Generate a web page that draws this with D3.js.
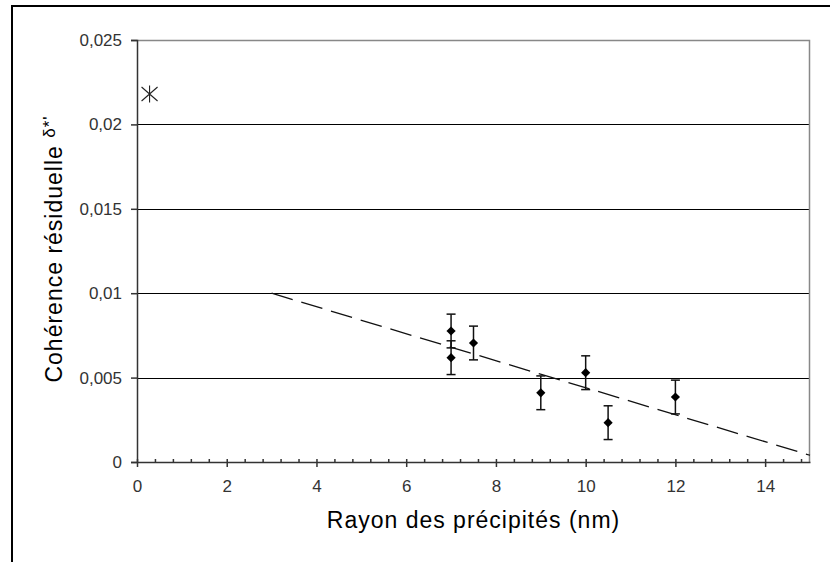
<!DOCTYPE html>
<html>
<head>
<meta charset="utf-8">
<script src="https://cdn.jsdelivr.net/npm/d3@7"></script>
<style>
	body { margin: 0; background: #fff; }
	svg { display: block; }
	text { font-family: "Liberation Sans", Arial, sans-serif; }
</style>
</head>
<body>
<svg id="chart_svg" width="830" height="562"></svg>
<script>
// measured points with their error bars
var radius = [7, 7, 7.5, 9, 10, 10.5, 12];
var coherence = [0.00776, 0.00618, 0.00705, 0.0041, 0.00529, 0.00233, 0.00385];
var errors = [0.001, 0.001, 0.001, 0.001, 0.001, 0.001, 0.001];

// isolated point drawn as a star
var outlierRadius = [0.28];
var outlierCoherence = [0.0218];

// dashed trend line ends
var trendRadius = [3, 15];
var trendCoherence = [0.0100, 0.0004];

var xTicks = [0, 2, 4, 6, 8, 10, 12, 14];
var xTickLabels = ["0", "2", "4", "6", "8", "10", "12", "14"];
var yTicks = [0, 0.005, 0.01, 0.015, 0.02, 0.025];
var yTickLabels = ["0", "0,005", "0,01", "0,015", "0,02", "0,025"];

var svg = d3.select("#chart_svg"),
	margin = {top: 40, right: 20, bottom: 100, left: 137},
	width = svg.attr("width") - margin.left - margin.right,
	height = svg.attr("height") - margin.top - margin.bottom;

// outer frame (only top and left edges visible)
svg.append("path")
	.attr("d", "M12,562V6H830")
	.attr("fill", "none")
	.attr("stroke", "#000")
	.attr("stroke-width", 2);

var g = svg.append("g").attr("transform", "translate(" + margin.left + "," + margin.top + ")");

var x = d3.scaleLinear().domain([0, 15]).range([0, width]);
var y = d3.scaleLinear().domain([0, 0.025]).range([height, 0]);

// horizontal grid
g.append("g")
	.selectAll("line")
	.data(yTicks.filter(function(d) { return d > 0 && d < 0.025; }))
	.enter().append("line")
	.attr("x1", 0)
	.attr("x2", width)
	.attr("y1", function(d) { return Math.round(y(d)) + 0.5; })
	.attr("y2", function(d) { return Math.round(y(d)) + 0.5; })
	.attr("stroke", "#000");

// plot frame top / right
g.append("path")
	.attr("d", "M0,0.5H" + (width - 0.5) + "V" + height)
	.attr("fill", "none")
	.attr("stroke", "#888")
	.attr("stroke-width", 1.5);

// y axis
var yAxis = g.append("g")
	.call(d3.axisLeft(y).tickValues(yTicks).tickSize(6).tickPadding(9)
		.tickFormat(function(d, i) { return yTickLabels[i]; }));
yAxis.select(".domain").attr("stroke", "#333").attr("stroke-width", 1.5);
yAxis.selectAll(".tick line").attr("stroke", "#333").attr("stroke-width", 1.5);
yAxis.selectAll("text").attr("font-size", 17).attr("fill", "#333").attr("font-family", null);

// x axis: minor ticks every 0.4, pointing inward
var minorTicks = d3.range(0, 75).map(function(i) { return i * 0.4; })
	.filter(function(d) { return d < 15 && Math.abs(d / 2 - Math.round(d / 2)) > 0.01; });
g.append("g")
	.attr("transform", "translate(0," + height + ")")
	.call(d3.axisTop(x).tickValues(minorTicks).tickSize(3).tickFormat(""))
	.call(function(s) {
		s.select(".domain").remove();
		s.selectAll(".tick line").attr("stroke", "#333").attr("stroke-width", 1.5);
	});

var xAxis = g.append("g")
	.attr("transform", "translate(0," + height + ")")
	.call(d3.axisBottom(x).tickValues(xTicks).tickSize(5).tickSizeOuter(0).tickPadding(13)
		.tickFormat(function(d, i) { return xTickLabels[i]; }));
xAxis.select(".domain").attr("stroke", "#333").attr("stroke-width", 1.5);
xAxis.selectAll(".tick line").attr("stroke", "#333").attr("stroke-width", 1.5).attr("y1", -3);
xAxis.selectAll("text").attr("font-size", 17).attr("fill", "#333").attr("font-family", null);

// trend line
g.append("path")
	.datum(d3.zip(trendRadius, trendCoherence))
	.attr("d", d3.line()
		.x(function(d) { return x(d[0]); })
		.y(function(d) { return y(d[1]); }))
	.attr("fill", "none")
	.attr("stroke", "#111")
	.attr("stroke-width", 1.3)
	.attr("stroke-dasharray", "22,9");

var points = d3.range(radius.length).map(function(i) {
	return {r: radius[i], c: coherence[i], e: errors[i]};
});

// error bars
var bars = g.append("g").selectAll("g")
	.data(points)
	.enter().append("g")
	.attr("stroke", "#111")
	.attr("stroke-width", 1.5);

bars.append("line")
	.attr("x1", function(d) { return x(d.r); })
	.attr("x2", function(d) { return x(d.r); })
	.attr("y1", function(d) { return y(d.c + d.e); })
	.attr("y2", function(d) { return y(d.c - d.e); });

bars.selectAll(".cap")
	.data(function(d) { return [[d.r, d.c + d.e], [d.r, d.c - d.e]]; })
	.enter().append("line")
	.attr("class", "cap")
	.attr("x1", function(d) { return x(d[0]) - 4.5; })
	.attr("x2", function(d) { return x(d[0]) + 4.5; })
	.attr("y1", function(d) { return y(d[1]); })
	.attr("y2", function(d) { return y(d[1]); });

// diamond markers
g.append("g").selectAll("path")
	.data(points)
	.enter().append("path")
	.attr("transform", function(d) { return "translate(" + x(d.r) + "," + y(d.c) + ")"; })
	.attr("d", "M0,-4.6L4.6,0L0,4.6L-4.6,0Z")
	.attr("fill", "#000");

// star marker
g.append("g").selectAll("path")
	.data(d3.zip(outlierRadius, outlierCoherence))
	.enter().append("path")
	.attr("transform", function(d) { return "translate(" + x(d[0]) + "," + y(d[1]) + ")"; })
	.attr("d", "M0,-8.5V8.5M-8,-7L8,7M-8,7L8,-7")
	.attr("fill", "none")
	.attr("stroke", "#222")
	.attr("stroke-width", 1.1);

// axis titles
svg.append("text")
	.attr("x", margin.left + width / 2)
	.attr("y", 528)
	.attr("text-anchor", "middle")
	.attr("font-size", 23)
	.attr("letter-spacing", 1)
	.attr("fill", "#000")
	.text("Rayon des précipités (nm)");

var yTitle = svg.append("text")
	.attr("transform", "translate(62,249) rotate(-90)")
	.attr("text-anchor", "middle")
	.attr("font-size", 23)
	.attr("letter-spacing", 1)
	.attr("fill", "#000");
yTitle.append("tspan").text("Cohérence résiduelle ");
yTitle.append("tspan").attr("font-size", 17).attr("dy", -7).text("δ*'");
</script>
</body>
</html>
